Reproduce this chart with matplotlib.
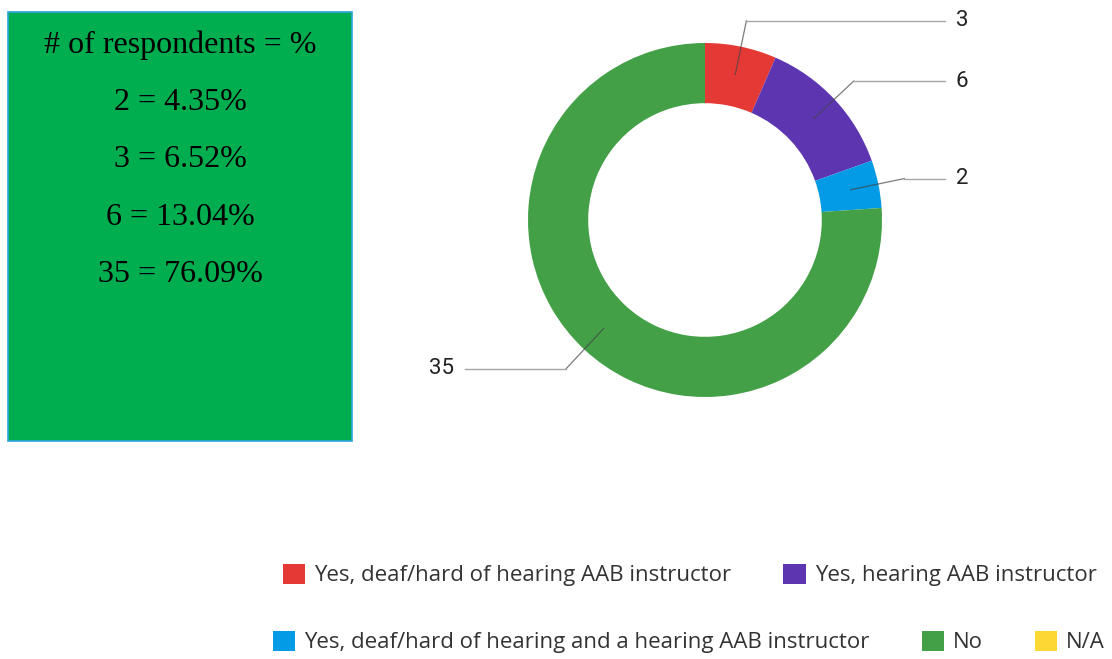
import numpy as np
import matplotlib.pyplot as plt
from matplotlib.patches import Rectangle, Patch

W, H = 1112, 659

# data
categories = [
    "Yes, deaf/hard of hearing AAB instructor",
    "Yes, hearing AAB instructor",
    "Yes, deaf/hard of hearing and a hearing AAB instructor",
    "No",
    "N/A",
]
counts = [3, 6, 2, 35, 0]
colors = ["#E53935", "#5E35B1", "#039BE5", "#43A047", "#FDD835"]
box_lines = ["# of respondents = %", "2 = 4.35%", "3 = 6.52%", "6 = 13.04%", "35 = 76.09%"]

fig = plt.figure(figsize=(W / 100, H / 100), dpi=100)


def fx(px):
    return px / W


def fy(py):
    return 1 - py / H


# green info box on the left
fig.patches.append(Rectangle((fx(8), fy(441)), fx(344), 429 / H, transform=fig.transFigure,
                             facecolor="#00AD4F", edgecolor="#2EA3DC", lw=1.2))
for i, line in enumerate(box_lines):
    fig.text(fx(180), fy(45 + i * 57.5), line, ha="center", va="center",
             fontsize=23, family="Liberation Serif", color="black")

# donut
cx, cy, r = 705, 220, 177
ax = fig.add_axes([fx(cx - r), fy(cy + r), 2 * r / W, 2 * r / H])
wedges, _ = ax.pie(counts, colors=colors, startangle=90, counterclock=False,
                   radius=1, wedgeprops=dict(width=0.34, linewidth=0))
ax.set_xlim(-1, 1)
ax.set_ylim(-1, 1)
ax.set_aspect("equal")
ax.axis("off")

label_x = 1.356
for w, n in zip(wedges, counts):
    if n == 0:
        continue
    ang = np.deg2rad((w.theta1 + w.theta2) / 2)
    x0, y0 = 0.84 * np.cos(ang), 0.84 * np.sin(ang)
    x1, y1 = 1.15 * np.cos(ang), 1.15 * np.sin(ang)
    side = 1 if x1 > 0 else -1
    x2 = side * label_x
    ax.plot([x0, x1], [y0, y1], color="#444444", lw=0.9, alpha=0.7, clip_on=False)
    ax.plot([x1, x2], [y1, y1], color="#A6A6A6", lw=1, clip_on=False)
    ax.text(x2 + side * 0.06, y1, str(n), ha="left" if side > 0 else "right", va="center",
            fontsize=16, family="Roboto", color="#222222", clip_on=False)

# legend, two rows
handles = [Patch(facecolor=c, edgecolor="none") for c in colors]
leg_kw = dict(frameon=False, fontsize=16, handlelength=1.0, handleheight=1.05,
              handletextpad=0.4, columnspacing=2.35, borderaxespad=0, borderpad=0)
leg1 = fig.legend(handles[:2], categories[:2], ncol=2, loc="center left",
                  bbox_to_anchor=(fx(283), fy(575)), **leg_kw)
leg2 = fig.legend(handles[2:], categories[2:], ncol=3, loc="center left",
                  bbox_to_anchor=(fx(273), fy(642)), **leg_kw)
for leg in (leg1, leg2):
    for t in leg.get_texts():
        t.set_family("Open Sans")
        t.set_color("#333333")

fig.savefig("out.png", dpi=100)
